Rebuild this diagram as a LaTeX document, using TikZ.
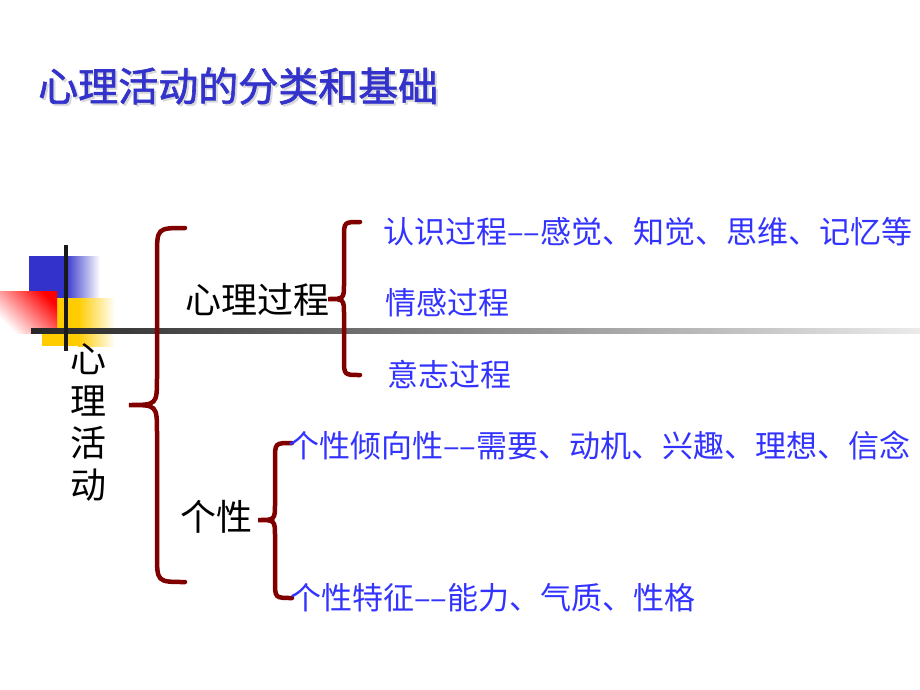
\documentclass[tikz,border=0pt]{standalone}
\usepackage{fontspec}
\newfontfamily\cjk{Noto Sans CJK SC}
\newfontfamily\cjkheavy[FakeBold=1.6]{Noto Sans CJK SC}
\definecolor{titleblue}{RGB}{51,51,204}
\definecolor{itemblue}{RGB}{51,51,255}
\definecolor{bracered}{RGB}{128,0,0}
\definecolor{boxyellow}{RGB}{255,204,0}
% curly brace: x of stem, top y, tip y, bottom y, arm
\newcommand{\curly}[5]{%
  \draw[brace line] (#1+#5,#2) .. controls (#1,#2) .. (#1,#2+#5) -- (#1,#3-#5)
    .. controls (#1,#3) .. (#1-#5,#3) .. controls (#1,#3) .. (#1,#3+#5)
    -- (#1,#4-#5) .. controls (#1,#4) .. (#1+#5,#4);}
\tikzset{
  brace line/.style={draw=bracered, line width=4.5pt, line cap=round},
  item/.style={anchor=west, inner sep=0pt, text=itemblue, font=\cjk\fontsize{31}{36}\selectfont},
  head/.style={inner sep=0pt, font=\cjk\fontsize{36}{42}\selectfont},
  title text/.style={anchor=west, inner sep=0pt, font=\cjkheavy\fontsize{40}{46}\selectfont}
}
\begin{document}
\begin{tikzpicture}[x=1pt,y=-1pt]
    \useasboundingbox[fill=white] (0,0) rectangle (920,690);
    % title
    \node[title text, text=black!15] (titleshadow) at (40,88) {心理活动的分类和基础};
    \node[title text, text=titleblue] (title) at (38,86) {心理活动的分类和基础};
    % corner squares
    \fill[titleblue] (29,256) rectangle (65,298);
    \shade[left color=titleblue, right color=white] (65,256) rectangle (100,298);
    \fill[boxyellow] (42,298) rectangle (78,346);
    \shade[left color=boxyellow, right color=white] (78,298) rectangle (115,346);
    \shade[top color=red, bottom color=white, shading angle=-45] (0,291) rectangle (57,333);
    \shade[left color=black!85, right color=black!8] (31,328.5) rectangle (920,333.5);
    \draw[line width=4pt, black!90] (66,245) -- (66,351);
    % braces
    \curly{157}{228}{405}{582}{28}
    \curly{344}{222}{299}{375}{16}
    \curly{275}{443}{520}{598}{17}
    % texts
    \node[head, align=center, font=\cjk\fontsize{36}{42}\selectfont] (root) at (88,422) {心\\理\\活\\动};
    \node[head, anchor=west] (proc) at (185,300) {心理过程};
    \node[head, anchor=west] (pers) at (180,517) {个性};
    \node[item] (cog) at (383,232) {认识过程––感觉、知觉、思维、记忆等};
    \node[item] (emo) at (385,303) {情感过程};
    \node[item] (will) at (387,375) {意志过程};
    \node[item] (tend) at (288,445) {个性倾向性––需要、动机、兴趣、理想、信念};
    \node[item] (trait) at (290,598) {个性特征––能力、气质、性格};
\end{tikzpicture}
\end{document}
